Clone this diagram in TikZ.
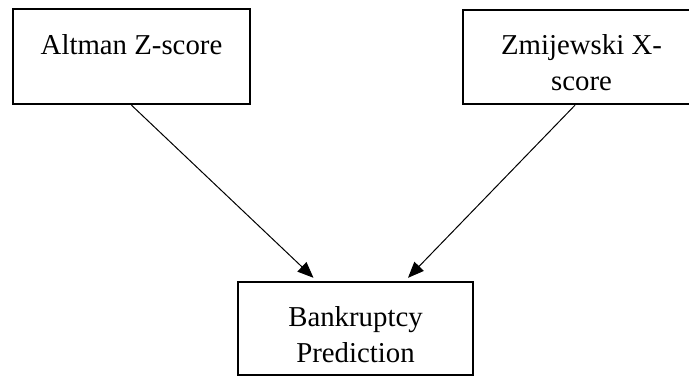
\documentclass[tikz,border=0pt]{standalone}
\usepackage{fontspec}
\setmainfont{Liberation Serif}
\usetikzlibrary{arrows.meta}
\tikzset{
	box/.style = {draw, line width = 1.2pt, inner sep = 0pt, align = center, font = \fontsize{14.4}{18}\selectfont},
	link/.style = {line width = 0.5pt, -{Triangle[length = 8pt, width = 6.5pt]}}
}
\begin{document}
\begin{tikzpicture}[x = 0.5pt, y = -0.5pt]
		\useasboundingbox (0, 0) rectangle (689, 376);
		\clip (0, 0) rectangle (689, 376);
		\node[box, minimum width = 118.5pt, minimum height = 47.5pt] (altman) at (131.5, 56.5) {\rule{0pt}{16pt}Altman Z-score\\ \mbox{}};
		\node[box, minimum width = 118.5pt, minimum height = 47pt] (zmijewski) at (581.5, 57) {\rule{0pt}{16pt}Zmijewski X-\\score};
		\node[box, minimum width = 117.5pt, minimum height = 46.5pt] (bankruptcy) at (355.5, 328.5) {\rule{0pt}{16pt}Bankruptcy\\Prediction};
		\draw[link] ([xshift = -3.25pt]zmijewski.south) -- ([xshift = 26.25pt, yshift = 1.5pt]bankruptcy.north);
		\draw[link] (altman.south) -- ([xshift = -21pt, yshift = 1.5pt]bankruptcy.north);
	\end{tikzpicture}
\end{document}
